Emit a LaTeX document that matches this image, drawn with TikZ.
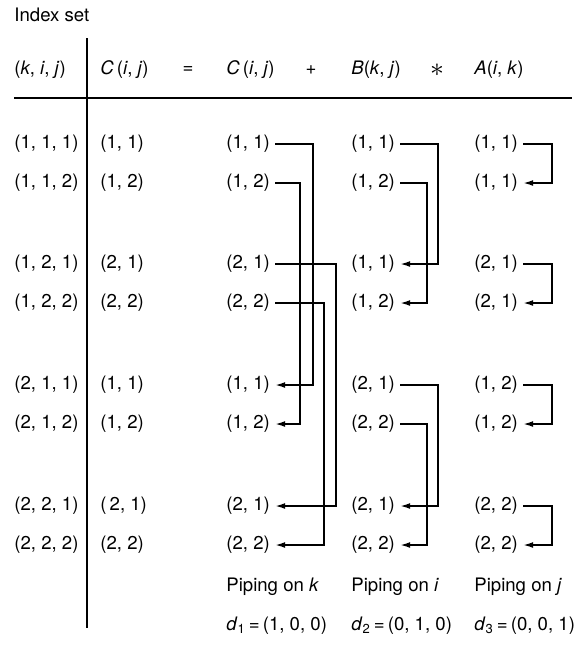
\documentclass[tikz,border=0pt]{standalone}
\usepackage{fontspec}
\setmainfont{TeX Gyre Heros}
\usetikzlibrary{arrows.meta}
\tikzset{pipe/.style = {line width=0.8pt, -{Latex[length=5pt,width=3pt]}},
         rule/.style = {line width=1.2pt},
         entry/.style = {anchor=west, inner sep=2.5pt}}
\newcommand{\iv}[1]{\textit{#1}}

\begin{document}
\begin{tikzpicture}[x=0.5pt, y=-0.5pt, every node/.style={font=\fontsize{9.3}{11}\selectfont}]
			\useasboundingbox (0,0) rectangle (576,650);
			% headers
			\node [entry] (title) at (9, 15) {Index set};
			\node [entry] (hidx) at (9, 70) {(\iv{k}, \iv{i}, \iv{j})};
			\node [entry] (hcl) at (95, 70) {\iv{C}\,(\iv{i}, \iv{j})};
			\node (heq) at (188, 70) {=};
			\node [entry] (hcr) at (221, 70) {\iv{C}\,(\iv{i}, \iv{j})};
			\node (hplus) at (311, 70) {+};
			\node [entry] (hb) at (346, 70) {\iv{B}(\iv{k}, \iv{j})};
			\node (htimes) at (437, 70) {\scalebox{1.5}{$\ast$}};
			\node [entry] (ha) at (469, 70) {\iv{A}(\iv{i}, \iv{k})};
			\draw [rule] (87, 38) to (87, 628);
			\draw [rule] (14, 98) to (572, 98);
			% index set
			\node [entry] (i1) at (9, 144) {(1, 1, 1)};
			\node [entry] (i2) at (9, 183) {(1, 1, 2)};
			\node [entry] (i3) at (9, 264) {(1, 2, 1)};
			\node [entry] (i4) at (9, 303) {(1, 2, 2)};
			\node [entry] (i5) at (9, 385) {(2, 1, 1)};
			\node [entry] (i6) at (9, 424) {(2, 1, 2)};
			\node [entry] (i7) at (9, 506) {(2, 2, 1)};
			\node [entry] (i8) at (9, 545) {(2, 2, 2)};
			% C(i,j) left
			\node [entry] (l1) at (95, 144) {(1, 1)};
			\node [entry] (l2) at (95, 183) {(1, 2)};
			\node [entry] (l3) at (95, 264) {(2, 1)};
			\node [entry] (l4) at (95, 303) {(2, 2)};
			\node [entry] (l5) at (95, 385) {(1, 1)};
			\node [entry] (l6) at (95, 424) {(1, 2)};
			\node [entry] (l7) at (95, 506) {(\,2, 1)};
			\node [entry] (l8) at (95, 545) {(2, 2)};
			% C(i,j) right
			\node [entry] (c1) at (221, 144) {(1, 1)};
			\node [entry] (c2) at (221, 183) {(1, 2)};
			\node [entry] (c3) at (221, 264) {(2, 1)};
			\node [entry] (c4) at (221, 303) {(2, 2)};
			\node [entry] (c5) at (221, 385) {(1, 1)};
			\node [entry] (c6) at (221, 424) {(1, 2)};
			\node [entry] (c7) at (221, 506) {(2, 1)};
			\node [entry] (c8) at (221, 545) {(2, 2)};
			% B(k,j)
			\node [entry] (b1) at (346, 144) {(1, 1)};
			\node [entry] (b2) at (346, 183) {(1, 2)};
			\node [entry] (b3) at (346, 264) {(1, 1)};
			\node [entry] (b4) at (346, 303) {(1, 2)};
			\node [entry] (b5) at (346, 385) {(2, 1)};
			\node [entry] (b6) at (346, 424) {(2, 2)};
			\node [entry] (b7) at (346, 506) {(2, 1)};
			\node [entry] (b8) at (346, 545) {(2, 2)};
			% A(i,k)
			\node [entry] (a1) at (469, 144) {(1, 1)};
			\node [entry] (a2) at (469, 183) {(1, 1)};
			\node [entry] (a3) at (469, 264) {(2, 1)};
			\node [entry] (a4) at (469, 303) {(2, 1)};
			\node [entry] (a5) at (469, 385) {(1, 2)};
			\node [entry] (a6) at (469, 424) {(1, 2)};
			\node [entry] (a7) at (469, 506) {(2, 2)};
			\node [entry] (a8) at (469, 545) {(2, 2)};
			% piping on k
			\draw [pipe] (c1.east) -| ([xshift=19pt]c5.east) to (c5.east);
			\draw [pipe] (c2.east) -| ([xshift=12.5pt]c6.east) to (c6.east);
			\draw [pipe] (c3.east) -| ([xshift=30.5pt]c7.east) to (c7.east);
			\draw [pipe] (c4.east) -| ([xshift=24.5pt]c8.east) to (c8.east);
			% piping on i
			\draw [pipe] (b1.east) -| ([xshift=19pt]b3.east) to (b3.east);
			\draw [pipe] (b2.east) -| ([xshift=13.5pt]b4.east) to (b4.east);
			\draw [pipe] (b5.east) -| ([xshift=19pt]b7.east) to (b7.east);
			\draw [pipe] (b6.east) -| ([xshift=13.5pt]b8.east) to (b8.east);
			% piping on j
			\draw [pipe] (a1.east) -| ([xshift=14.5pt]a2.east) to (a2.east);
			\draw [pipe] (a3.east) -| ([xshift=14.5pt]a4.east) to (a4.east);
			\draw [pipe] (a5.east) -| ([xshift=14.5pt]a6.east) to (a6.east);
			\draw [pipe] (a7.east) -| ([xshift=14.5pt]a8.east) to (a8.east);
			% footers
			\node [entry] (pk) at (221, 587) {Piping on \iv{k}};
			\node [entry] (pi) at (346, 587) {Piping on \iv{i}};
			\node [entry] (pj) at (469, 587) {Piping on \iv{j}};
			\node [entry] (d1) at (221, 626) {\iv{d}\textsubscript{1}\,=\,(1, 0, 0)};
			\node [entry] (d2) at (346, 626) {\iv{d}\textsubscript{2}\,=\,(0, 1, 0)};
			\node [entry] (d3) at (469, 626) {\iv{d}\textsubscript{3}\,=\,(0, 0, 1)};
		\end{tikzpicture}
\end{document}
